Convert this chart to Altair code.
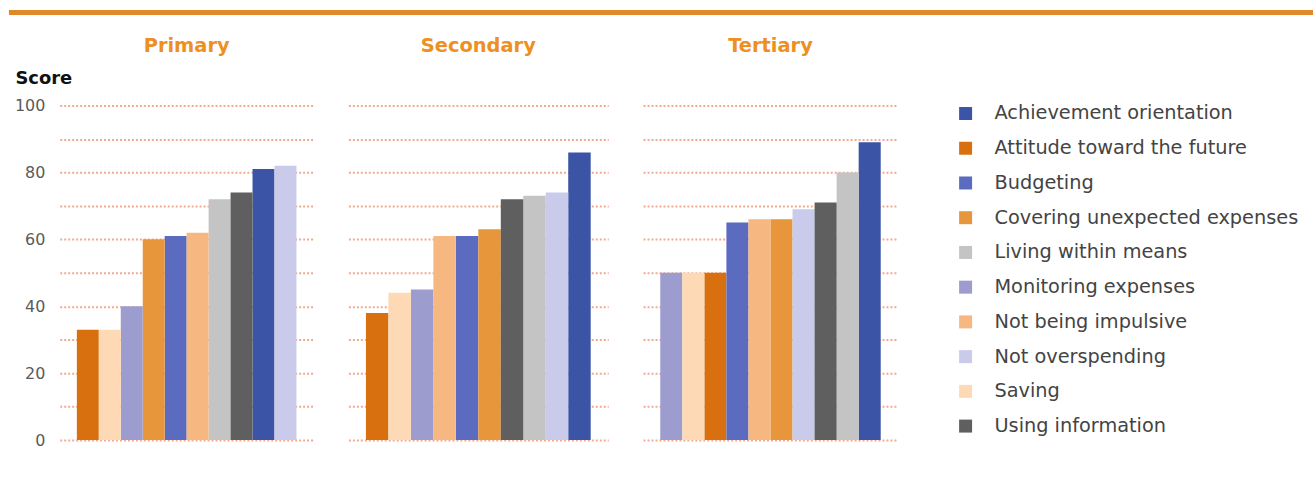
import altair as alt
import pandas as pd

# Financial capability domains, in legend order
categories = [
    "Achievement orientation",
    "Attitude toward the future",
    "Budgeting",
    "Covering unexpected expenses",
    "Living within means",
    "Monitoring expenses",
    "Not being impulsive",
    "Not overspending",
    "Saving",
    "Using information",
]
colors = [
    "#3b54a6", "#d8700f", "#5b6cc0", "#e8963c", "#c4c4c4",
    "#9c9ccf", "#f6b880", "#cacbea", "#fdd9b5", "#5f5f5f",
]

# Scores by education level (same order as categories)
primary_scores = [81, 33, 61, 60, 72, 40, 62, 82, 33, 74]
secondary_scores = [86, 38, 61, 63, 73, 45, 61, 74, 44, 72]
tertiary_scores = [89, 50, 65, 66, 80, 50, 66, 69, 50, 71]

# Left-to-right bar order within each panel
primary_order = [
    "Attitude toward the future", "Saving", "Monitoring expenses",
    "Covering unexpected expenses", "Budgeting", "Not being impulsive",
    "Living within means", "Using information", "Achievement orientation",
    "Not overspending",
]
secondary_order = [
    "Attitude toward the future", "Saving", "Monitoring expenses",
    "Not being impulsive", "Budgeting", "Covering unexpected expenses",
    "Using information", "Living within means", "Not overspending",
    "Achievement orientation",
]
tertiary_order = [
    "Monitoring expenses", "Saving", "Attitude toward the future",
    "Budgeting", "Not being impulsive", "Covering unexpected expenses",
    "Not overspending", "Using information", "Living within means",
    "Achievement orientation",
]

FONT = "DejaVu Sans"
ORANGE = "#ee8f22"
GRID = "#f2a98e"
PLOT_H = 336
color_scale = alt.Scale(domain=categories, range=colors)


def panel(title, scores, order, width, first=False):
    df = pd.DataFrame({"category": categories, "score": scores})
    if first:
        y_axis = alt.Axis(
            values=list(range(0, 101, 10)),
            labelExpr="datum.value % 20 == 0 ? datum.label : ''",
            ticks=False, domain=False, labelPadding=15,
            labelFont=FONT, labelFontSize=16, labelColor="#5a5a5a",
            title="Score", titleAngle=0, titleAlign="left",
            titleBaseline="middle", titleX=-45, titleY=-27,
            titleFont=FONT, titleFontSize=18, titleFontWeight="bold",
            titleColor="#111111",
            gridColor=GRID, gridDash=[2, 2], gridWidth=2,
        )
    else:
        y_axis = alt.Axis(
            values=list(range(0, 101, 10)), labels=False, ticks=False,
            domain=False, title=None,
            gridColor=GRID, gridDash=[2, 2], gridWidth=2,
        )
    bars = alt.Chart(df).mark_bar().encode(
        x=alt.X("category:N", sort=order, axis=None,
                scale=alt.Scale(paddingInner=0, paddingOuter=0.78)),
        y=alt.Y("score:Q", axis=y_axis, scale=alt.Scale(domain=[0, 100], nice=False)),
        color=alt.Color("category:N", scale=color_scale, legend=None),
    )
    head = alt.Chart(pd.DataFrame({"t": [title]})).mark_text(
        font=FONT, fontSize=19.5, fontWeight="bold", color=ORANGE,
        align="center", baseline="middle",
    ).encode(text="t:N", x=alt.value(width / 2), y=alt.value(-60))
    layers = [bars, head]
    if first:
        rule = alt.Chart(pd.DataFrame({"a": [0]})).mark_rule(
            color="#e0882a", strokeWidth=5
        ).encode(x=alt.value(-51), x2=alt.value(1259), y=alt.value(-93.5))
        layers.append(rule)
    return alt.layer(*layers).properties(width=width, height=PLOT_H)


p1 = panel("Primary", primary_scores, primary_order, 255, first=True)
p2 = panel("Secondary", secondary_scores, secondary_order, 261)
p3 = panel("Tertiary", tertiary_scores, tertiary_order, 256)

# Hand-drawn legend panel
leg_df = pd.DataFrame({"item": categories})
leg_y = alt.Y("item:N", sort=categories, axis=None,
              scale=alt.Scale(type="point", range=[8, 322], padding=0))
swatch = alt.Chart(leg_df).mark_square(size=170, opacity=1).encode(
    x=alt.value(33), y=leg_y,
    color=alt.Color("item:N", scale=color_scale, legend=None),
)
label = alt.Chart(leg_df).mark_text(
    font=FONT, fontSize=19.4, color="#444444", align="left", baseline="middle"
).encode(x=alt.value(62), y=leg_y, text="item:N")
legend_panel = alt.layer(swatch, label).properties(width=330, height=PLOT_H)

chart = alt.hconcat(
    p1, p2, p3, legend_panel, spacing=35, bounds="flush"
).resolve_scale(
    x="independent", y="independent"
).configure_view(
    stroke=None
).properties(
    padding={"left": 6, "top": 9, "right": 0, "bottom": 5},
    background="white",
)

chart.save("out.html", embed_options={"renderer": "svg", "actions": False})
